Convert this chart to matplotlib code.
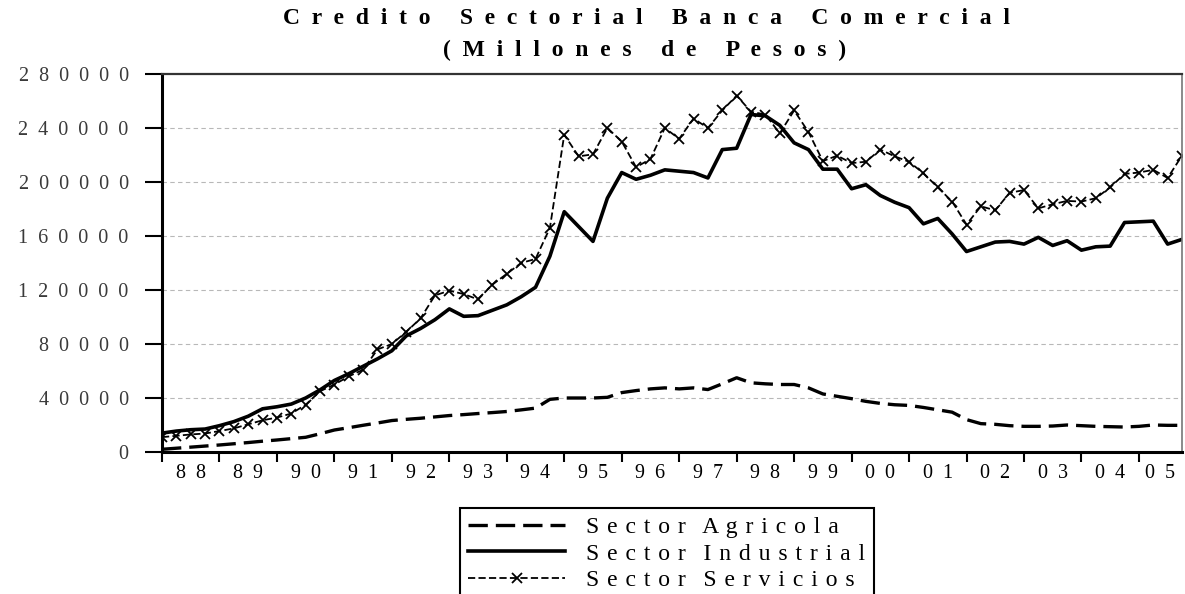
import matplotlib
matplotlib.use('agg')
import matplotlib.pyplot as plt
import numpy as np

# quarterly data, 1988 Q1 .. 2005 Q4 (millones de pesos)
years = ['88', '89', '90', '91', '92', '93', '94', '95', '96',
         '97', '98', '99', '00', '01', '02', '03', '04', '05']

agricola = [2000, 2800, 3600, 4400, 5200, 6100, 7000, 8000, 8900, 9900,
            10900, 13500, 16300, 18000, 19800, 21500, 23300, 24200, 25000, 26000,
            27000, 27700, 28500, 29200, 30000, 31200, 32500, 39000,
            40000, 40000, 40000, 40500, 44000, 45500, 46750, 47500, 46750, 47500,
            46250, 50500, 55000, 51250, 50500, 50000, 50000, 47500, 43000, 41250,
            39500, 37500, 36000, 35000, 34500, 33000, 31250, 29500, 24000, 21000,
            20500, 19500, 19000, 19000, 19250, 20000, 19500, 19000, 18750, 18500,
            19000, 20000, 19750, 19750]

industrial = [14000, 15500, 16500, 17000, 19500, 22500, 26500, 32000, 33500, 35500,
              40000, 46000, 53000, 58000, 63500, 69000, 75000, 86000, 91500, 98000,
              106000, 100500, 101000, 105000, 109000, 115000, 122000, 145000,
              178000, 167000, 156000, 188000, 207000, 202000, 205000, 209000, 208000, 207000,
              203000, 224000, 225000, 250000, 249000, 242000, 229000, 224000, 209500, 209500,
              195000, 198000, 190000, 185000, 181000, 169000, 173000, 161500, 148500, 152000,
              155500, 156000, 154000, 159000, 153000, 156500, 149500, 152000, 152500, 170000,
              170500, 171000, 154000, 157500]

servicios = [11000, 12000, 13000, 13700, 15500, 17500, 20500, 23500, 25500, 28500,
             35000, 45000, 50000, 56000, 61000, 76000, 80000, 89000, 99000, 116000,
             119500, 117000, 113000, 124000, 132000, 140000, 143000, 166000,
             235000, 219000, 220500, 240000, 230000, 211000, 217000, 240000, 232000, 247000,
             240000, 253000, 264000, 252000, 250000, 236000, 253000, 237000, 215500, 219500,
             214000, 215000, 224000, 219000, 215000, 206500, 196000, 185500, 168500, 182000,
             179000, 192000, 194000, 180500, 183500, 186000, 185500, 188000, 196000, 206000,
             207000, 209000, 203000, 219500]

yticks = [0, 40000, 80000, 120000, 160000, 200000, 240000, 280000]

plt.rcParams['font.family'] = ['Liberation Serif', 'DejaVu Serif']


def spaced(s, gap='  ', wordgap='    '):
    return wordgap.join(gap.join(w) for w in s.split(' '))


fig = plt.figure(figsize=(11.85, 5.94), dpi=100)
ax = fig.add_axes([162/1185, 1-452/594, 1020/1185, 378/594])

q = np.arange(len(agricola))
leg_gap = ' \u200a'
ax.plot(q, agricola, color='black', lw=2.4, dashes=(5.8, 2.4),
        label=spaced('Sector Agricola', leg_gap, '   '))
ax.plot(q, industrial, color='black', lw=2.6,
        label=spaced('Sector Industrial', leg_gap, '   '))
ax.plot(q, servicios, color='black', lw=1.3, dashes=(4, 1.8), marker='x', ms=7, mew=1.3,
        label=spaced('Sector Servicios', leg_gap, '   '))

ax.set_xlim(0, len(q) - 1)
ax.set_ylim(0, 280000)
ax.set_yticks(yticks)
ax.set_yticklabels([spaced(str(v)) for v in yticks], fontsize=14.5, color='#3a3a3a')
for v in yticks[1:-1]:
    ax.axhline(v, color='#b8b8b8', lw=0.8, dashes=(4, 3), zorder=0)

# year ticks at start of each year, labels centred in between
bounds = list(range(0, len(q), 4)) + [len(q) - 1]
ax.set_xticks(bounds[:-1])
ax.set_xticklabels([])
ax.set_xticks([(a + b) / 2 for a, b in zip(bounds[:-1], bounds[1:])], minor=True)
ax.set_xticklabels([spaced(y) for y in years], minor=True, fontsize=14.5)
ax.tick_params(axis='x', which='major', direction='out', length=7, width=1.5)
ax.tick_params(axis='x', which='minor', length=0, pad=9)
ax.tick_params(axis='y', direction='out', length=12, width=1.5, pad=12)

ax.spines['left'].set_linewidth(2.2)
ax.spines['bottom'].set_linewidth(2.2)
ax.spines['top'].set_linewidth(1.6)
ax.spines['top'].set_color('#333333')
ax.spines['right'].set_linewidth(1.2)
ax.spines['right'].set_color('#777777')

fig.text(647/1185, 1-18/594, spaced('Credito Sectorial Banca Comercial', '  ', '     '),
         ha='center', va='center', fontsize=17, fontweight='bold')
fig.text(645/1185, 1-50/594, spaced('(Millones de Pesos)', '  ', '     '),
         ha='center', va='center', fontsize=17, fontweight='bold')

leg = fig.legend(loc='upper left', bbox_to_anchor=(460/1185, 1-508/594), fontsize=17,
                 handlelength=4.1, handletextpad=0.9, labelspacing=0.22,
                 borderpad=0.35, borderaxespad=0, fancybox=False, framealpha=1)
leg.get_frame().set_edgecolor('black')
leg.get_frame().set_linewidth(1.5)

fig.savefig('out.png', dpi=100)
